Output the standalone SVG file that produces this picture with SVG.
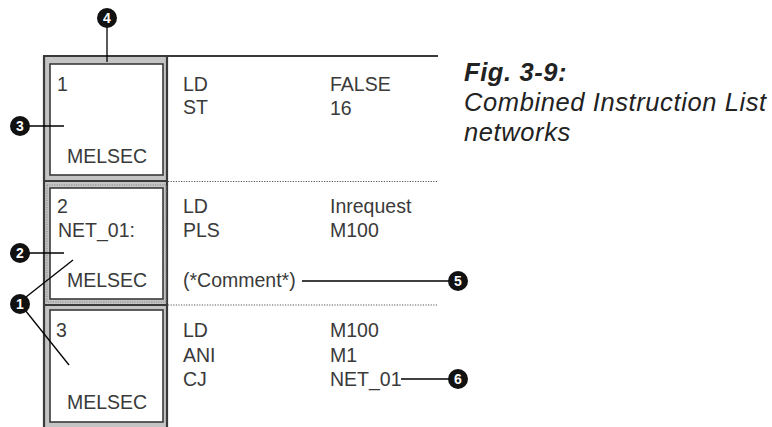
<svg xmlns="http://www.w3.org/2000/svg" width="772" height="427" viewBox="0 0 772 427">
<style>
.cell{fill:#c4c4c4;stroke:none}
.box{fill:#fff;stroke:#3a3a3a;stroke-width:1.6}
.hl{fill:none;stroke:#8a8a8a;stroke-width:1.2;stroke-dasharray:1.2 1.2}
.dark{stroke:#3a3a3a;stroke-width:2.2;fill:none}
.dot{stroke:#555;stroke-width:1;stroke-dasharray:1.2 1.4;fill:none}
.t{font-family:"Liberation Sans",Arial,sans-serif;font-size:19.5px;fill:#3a3a3a}
.lead{stroke:#000;stroke-width:1.3;fill:none}
.mk circle{fill:#111}
.mk text{font-family:"Liberation Sans",Arial,sans-serif;font-size:14px;font-weight:bold;fill:#fff;text-anchor:middle}
.cap{font-family:"Liberation Sans",Arial,sans-serif;font-size:25.5px;font-style:italic;fill:#222;letter-spacing:0.6px}
</style>
<rect width="772" height="427" fill="#fff"/>
<g id="grid">
<rect class="cell" x="44" y="56" width="123" height="371"/>
<line class="dark" x1="43" y1="56" x2="438" y2="56"/>
<line class="dark" x1="44" y1="56" x2="44" y2="427"/>
<line class="dark" x1="167" y1="56" x2="167" y2="427"/>
<line class="dark" x1="44" y1="181" x2="167" y2="181"/>
<line class="dark" x1="44" y1="305" x2="167" y2="305"/>
<line class="dot" x1="168" y1="181.5" x2="438" y2="181.5"/>
<line class="dot" x1="168" y1="305" x2="438" y2="305"/>
</g>
<g id="net1">
<rect class="box" x="50" y="64" width="113" height="111"/>
<text class="t" x="57" y="91">1</text>
<text class="t" x="67" y="163">MELSEC</text>
<text class="t" x="183" y="91">LD</text>
<text class="t" x="183" y="114">ST</text>
<text class="t" x="330" y="91">FALSE</text>
<text class="t" x="330" y="115">16</text>
</g>
<g id="net2">
<rect class="hl" x="47" y="185" width="119" height="117"/>
<rect class="box" x="50" y="188" width="113" height="111"/>
<text class="t" x="57" y="213">2</text>
<text class="t" x="58" y="237">NET_01:</text>
<text class="t" x="67" y="287">MELSEC</text>
<text class="t" x="183" y="213">LD</text>
<text class="t" x="183" y="237">PLS</text>
<text class="t" x="330" y="213">Inrequest</text>
<text class="t" x="330" y="237">M100</text>
<text class="t" x="183" y="287">(*Comment*)</text>
</g>
<g id="net3">
<rect class="box" x="50" y="310" width="113" height="112"/>
<text class="t" x="56" y="337">3</text>
<text class="t" x="67" y="409">MELSEC</text>
<text class="t" x="183" y="337">LD</text>
<text class="t" x="183" y="362">ANI</text>
<text class="t" x="183" y="386">CJ</text>
<text class="t" x="330" y="337">M100</text>
<text class="t" x="330" y="362">M1</text>
<text class="t" x="330" y="386">NET_01</text>
</g>
<g id="connectors">
<line class="lead" x1="107" y1="27" x2="107" y2="62"/>
<line class="lead" x1="29" y1="126" x2="64" y2="126"/>
<line class="lead" x1="29" y1="253" x2="64" y2="253"/>
<line class="lead" x1="26" y1="297" x2="73" y2="260"/>
<line class="lead" x1="25" y1="310" x2="69" y2="365"/>
<line class="lead" x1="302" y1="281" x2="449" y2="281"/>
<line class="lead" x1="401" y1="379" x2="449" y2="379"/>
</g>
<g id="m1" class="mk"><circle cx="20" cy="304" r="10"/><text x="20" y="309">1</text></g>
<g id="m2" class="mk"><circle cx="20" cy="253" r="10"/><text x="20" y="258">2</text></g>
<g id="m3" class="mk"><circle cx="20" cy="126" r="10"/><text x="20" y="131">3</text></g>
<g id="m4" class="mk"><circle cx="107" cy="18" r="10"/><text x="107" y="23">4</text></g>
<g id="m5" class="mk"><circle cx="458" cy="281" r="10"/><text x="458" y="286">5</text></g>
<g id="m6" class="mk"><circle cx="458" cy="379" r="10"/><text x="458" y="384">6</text></g>
<g id="caption">
<text class="cap" x="464" y="81" font-weight="bold">Fig. 3-9:</text>
<text class="cap" x="464" y="111">Combined Instruction List</text>
<text class="cap" x="464" y="141">networks</text>
</g>
</svg>
